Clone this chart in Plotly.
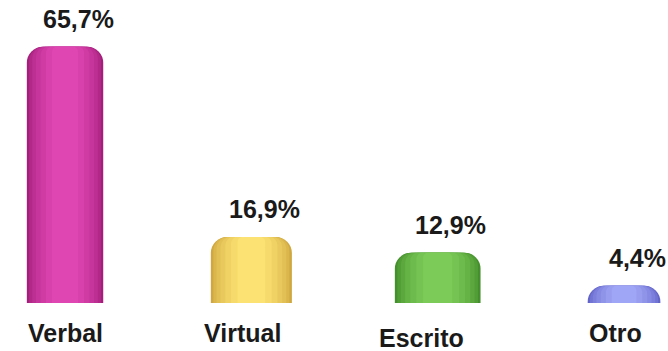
import plotly.graph_objects as go

# Communication channel shares (%)
categories = ["Verbal", "Virtual", "Escrito", "Otro"]
values = [65.7, 16.9, 12.9, 4.4]
value_labels = ["65,7%", "16,9%", "12,9%", "4,4%"]

# Cylinder shading: rim colour and centre colour per bar
edge_colors = ["#A41F7C", "#CFA840", "#45902C", "#6264C8"]
center_colors = ["#E046B2", "#FCE272", "#7CCB58", "#A0A6F6"]
bar_widths = [0.41, 0.435, 0.46, 0.39]

FONT = "Liberation Sans, Arial, sans-serif"


def mix(c1, c2, t):
    a = [int(c1[i:i + 2], 16) for i in (1, 3, 5)]
    b = [int(c2[i:i + 2], 16) for i in (1, 3, 5)]
    return "#" + "".join(f"{round(x + (y - x) * t):02x}" for x, y in zip(a, b))


fig = go.Figure()

# Concentric layers, narrowing toward a lighter centre, give a rounded cylinder look
layer_scale = [1.0, 0.94, 0.86, 0.76, 0.64, 0.5, 0.34]
for k, s in enumerate(layer_scale):
    t = k / (len(layer_scale) - 1)
    fig.add_trace(go.Bar(
        x=categories, y=values,
        width=[w * s for w in bar_widths],
        marker=dict(
            color=[mix(e, c, t ** 0.8) for e, c in zip(edge_colors, center_colors)],
            cornerradius=max(16 - 2 * k, 5),
            line=dict(width=0),
        ),
        hoverinfo="skip", showlegend=False,
    ))

# Value labels above each cylinder
for cat, v, lab in zip(categories, values, value_labels):
    fig.add_annotation(
        x=cat, y=v, text=lab, showarrow=False,
        xshift=13, yshift=28, yanchor="middle",
        font=dict(family=FONT, size=25, color="#1a1a1a", weight="bold"),
    )

# Category names under each cylinder
name_xshift = [0, -9, -16, -9]
name_y = [0.051, 0.051, 0.037, 0.051]
for cat, dx, yy in zip(categories, name_xshift, name_y):
    fig.add_annotation(
        x=cat, y=yy, yref="paper", text=cat, showarrow=False,
        xshift=dx, yanchor="middle",
        font=dict(family=FONT, size=25, color="#1a1a1a", weight="bold"),
    )

fig.update_layout(
    width=668, height=351,
    margin=dict(l=0, r=0, t=0, b=0),
    paper_bgcolor="white", plot_bgcolor="white",
    barmode="overlay",
    xaxis=dict(range=[-0.349, 3.236], visible=False),
    yaxis=dict(range=[-12.3, 77.7], visible=False),
)

fig.write_html("out.html")
